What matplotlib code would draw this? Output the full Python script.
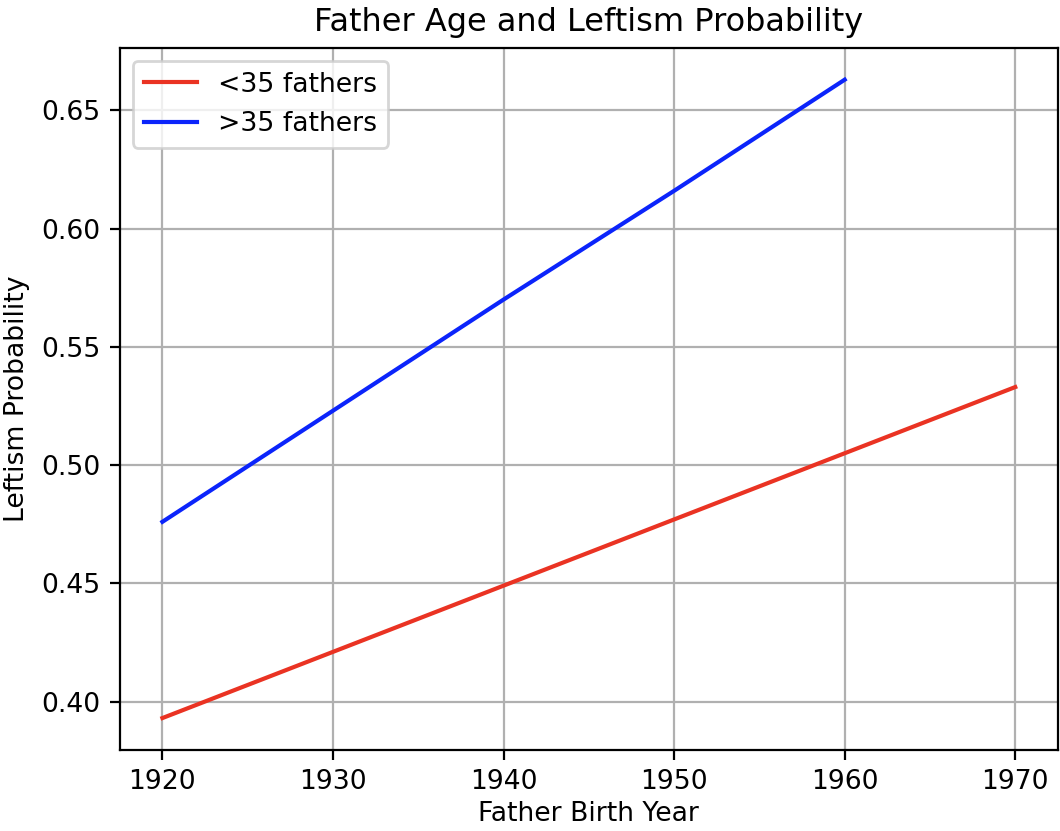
import matplotlib
matplotlib.use('Agg')
import matplotlib.pyplot as plt

years_young = [1920, 1930, 1940, 1950, 1960, 1970]
prob_young = [0.393, 0.421, 0.449, 0.477, 0.505, 0.533]

years_old = [1920, 1930, 1940, 1950, 1960]
prob_old = [0.476, 0.523, 0.570, 0.616, 0.663]

def plot_leftism():
    fig = plt.figure(figsize=(5.3, 4.155), dpi=200)
    ax = fig.add_axes([0.113, 0.0975, 0.885, 0.845])

    ax.plot(years_young, prob_young, color='#ea3323', label='<35 fathers')
    ax.plot(years_old, prob_old, color='#0b24fb', label='>35 fathers')

    ax.set_title('Father Age and Leftism Probability', fontsize=11.5)
    ax.set_xlabel('Father Birth Year', fontsize=9.6, labelpad=2)
    ax.set_ylabel('Leftism Probability', fontsize=9.6)
    ax.set_xticks([1920, 1930, 1940, 1950, 1960, 1970])
    ax.tick_params(labelsize=9.6)
    ax.legend(loc='upper left', fontsize=9.6)
    ax.grid(True)

    fig.savefig('out.png', dpi=200)
    plt.close(fig)

if __name__ == '__main__':
    plot_leftism()
